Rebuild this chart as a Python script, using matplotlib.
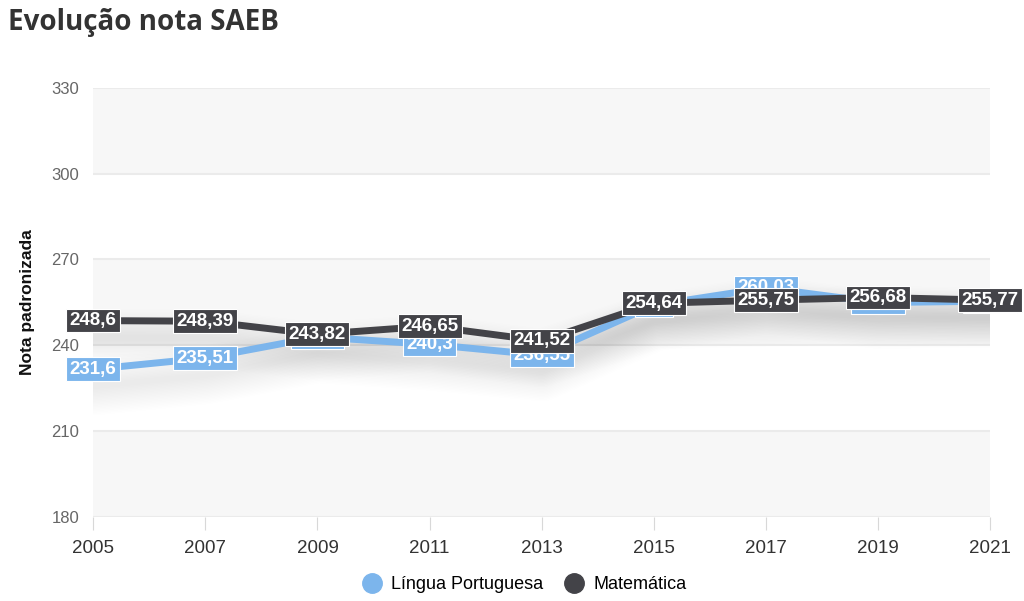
import matplotlib.pyplot as plt

anos = ['2005', '2007', '2009', '2011', '2013', '2015', '2017', '2019', '2021']
lingua_portuguesa = [231.6, 235.51, 242.9, 240.3, 236.55, 254.0, 260.03, 254.9, 255.4]
matematica = [248.6, 248.39, 243.82, 246.65, 241.52, 254.64, 255.75, 256.68, 255.77]
y_ticks = [180, 210, 240, 270, 300, 330]

cor_lp = '#7cb5ec'
cor_mat = '#434348'

def rotulo(v):
    return ('%.2f' % v).rstrip('0').rstrip('.').replace('.', ',')

fig = plt.figure(figsize=(10.24, 6.01), dpi=100)
ax = fig.add_axes([0.091, 0.140, 0.876, 0.714])
x = list(range(len(anos)))

# faixas alternadas do fundo
for i in range(0, len(y_ticks) - 1, 2):
    ax.axhspan(y_ticks[i], y_ticks[i + 1], color='#f7f7f7', zorder=0, lw=0)
for t in y_ticks:
    ax.axhline(t, color='#ebebeb', lw=1.5, zorder=1)

# sombra suave sob as linhas
for k in range(4, 44, 2):
    for serie in (lingua_portuguesa, matematica):
        ax.plot(x, [v - 6 for v in serie], color='black', lw=k, alpha=0.005,
                zorder=2, solid_capstyle='round')

ax.plot(x, lingua_portuguesa, color=cor_lp, lw=5, zorder=3)
ax.plot(x, matematica, color=cor_mat, lw=5, zorder=4)

for serie, cor, z in [(lingua_portuguesa, cor_lp, 5), (matematica, cor_mat, 6)]:
    for xi, v in zip(x, serie):
        ax.text(xi, v, rotulo(v), ha='center', va='center', color='white',
                fontsize=13.5, fontweight='bold', family='Liberation Sans', zorder=z,
                bbox=dict(boxstyle='square,pad=0.18', fc=cor, ec='white', lw=0.8))

ax.set_xlim(0, len(anos) - 1)
ax.set_ylim(180, 330)
ax.set_xticks(x)
ax.set_xticklabels(anos, fontsize=13.5, color='#333333', family='Liberation Sans')
ax.set_yticks(y_ticks)
ax.set_yticklabels([str(t) for t in y_ticks], fontsize=12, color='#666666',
                   family='Liberation Sans')
ax.tick_params(axis='y', length=0, pad=10)
ax.tick_params(axis='x', length=9, color='#d8d8d8', pad=8)
for s in ax.spines.values():
    s.set_visible(False)
ax.set_ylabel('Nota padronizada', fontsize=12.5, fontweight='bold', color='#111111',
              family='Liberation Sans', labelpad=12)

fig.text(0.008, 0.963, 'Evolução nota SAEB', fontsize=20, fontweight='bold',
         color='#333333', family='Open Sans', va='center')

h1, = ax.plot([], [], 'o', color=cor_lp, markersize=14, label='Língua Portuguesa')
h2, = ax.plot([], [], 'o', color=cor_mat, markersize=14, label='Matemática')
fig.legend(handles=[h1, h2], loc='center', bbox_to_anchor=(0.508, 0.027), ncol=2,
           frameon=False, handletextpad=0.05, columnspacing=0.7,
           prop={'family': 'Liberation Sans', 'size': 13})

fig.savefig('out.png', dpi=100)
